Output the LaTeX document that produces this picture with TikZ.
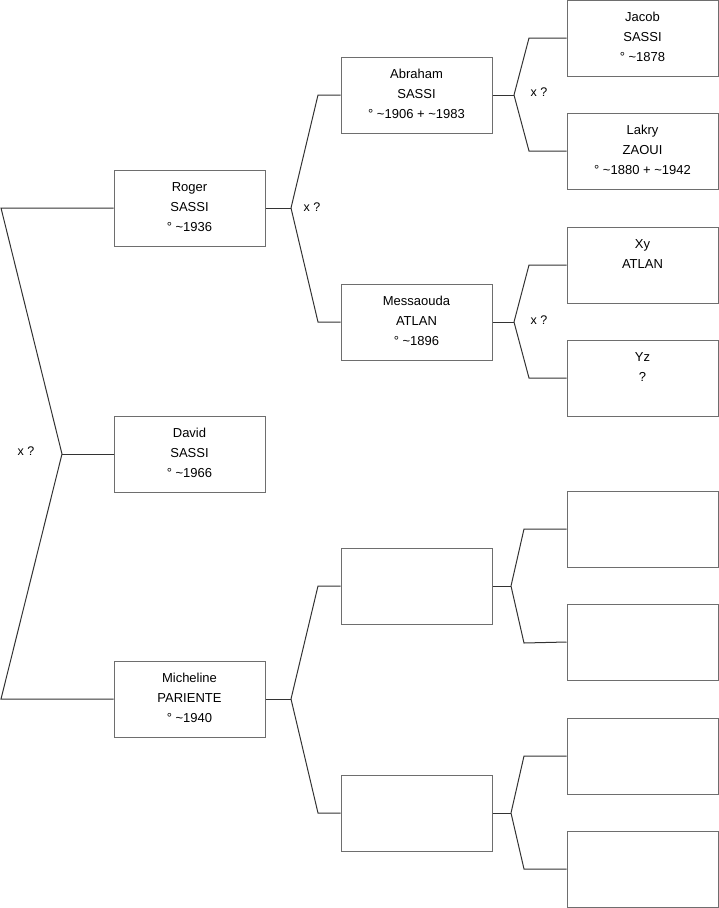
\documentclass[tikz,border=0pt]{standalone}
\usepackage{fontspec}
\setmainfont{Liberation Sans}
\definecolor{boxline}{HTML}{6E6E6E}
\definecolor{conn}{HTML}{333333}
\begin{document}
\begin{tikzpicture}[x=1pt,y=-1pt,
  person/.style={draw=boxline,line width=1pt,fill=white,minimum width=151pt,minimum height=76pt,
    inner sep=0pt,align=center,text depth=2pt,font=\fontsize{13}{20}\selectfont},
  link/.style={draw=conn,line width=1pt},
  mlabel/.style={font=\fontsize{12.5}{14}\selectfont,inner sep=0pt}]
\useasboundingbox (0,0) rectangle (719,908);
% generation 1
\node[person] (roger) at (189.5,208) {Roger\\SASSI\\° \textasciitilde1936};
\node[person] (david) at (189.5,454) {David\\SASSI\\° \textasciitilde1966};
\node[person] (micheline) at (189.5,699) {Micheline\\PARIENTE\\° \textasciitilde1940};
% generation 2
\node[person] (abraham) at (416.5,95) {Abraham\\SASSI\\° \textasciitilde1906 + \textasciitilde1983};
\node[person] (messaouda) at (416.5,322) {Messaouda\\ATLAN\\° \textasciitilde1896};
\node[person] (e1) at (416.5,586) {};
\node[person] (e2) at (416.5,813) {};
% generation 3
\node[person] (jacob) at (642.5,38) {Jacob\\SASSI\\° \textasciitilde1878};
\node[person] (lakry) at (642.5,151) {Lakry\\ZAOUI\\° \textasciitilde1880 + \textasciitilde1942};
\node[person] (xy) at (642.5,265) {Xy\\ATLAN\\\mbox{}};
\node[person] (yz) at (642.5,378) {Yz\\?\\\mbox{}};
\node[person] (e3) at (642.5,529) {};
\node[person] (e4) at (642.5,642) {};
\node[person] (e5) at (642.5,756) {};
\node[person] (e6) at (642.5,869) {};
% left bracket
\coordinate (l1) at (1,208);
\coordinate (l2) at (1,699);
\coordinate (lv) at (62,454);
\draw[link] (roger.west) -- (l1) -- (lv) -- (l2) -- (micheline.west);
\draw[link] (lv) -- (david.west);
\node[mlabel] (xl) at (26,451) {x ?};
% Roger bracket
\coordinate (rv) at (291,208);
\coordinate (ra) at (318,95);
\coordinate (rm) at (318,322);
\draw[link] (roger.east) -- (rv);
\draw[link] (rv) -- (ra) -- (abraham.west);
\draw[link] (rv) -- (rm) -- (messaouda.west);
\node[mlabel] (xr) at (312,207) {x ?};
% Micheline bracket
\coordinate (mv) at (291,699);
\coordinate (ma) at (318,586);
\coordinate (mb) at (318,813);
\draw[link] (micheline.east) -- (mv);
\draw[link] (mv) -- (ma) -- (e1.west);
\draw[link] (mv) -- (mb) -- (e2.west);
% Abraham bracket
\coordinate (av) at (514,95);
\coordinate (aa) at (529,38);
\coordinate (ab) at (529,151);
\draw[link] (abraham.east) -- (av);
\draw[link] (av) -- (aa) -- (jacob.west);
\draw[link] (av) -- (ab) -- (lakry.west);
\node[mlabel] (xa) at (539,92) {x ?};
% Messaouda bracket
\coordinate (sv) at (514,322);
\coordinate (sa) at (529,265);
\coordinate (sb) at (529,378);
\draw[link] (messaouda.east) -- (sv);
\draw[link] (sv) -- (sa) -- (xy.west);
\draw[link] (sv) -- (sb) -- (yz.west);
\node[mlabel] (xs) at (539,320) {x ?};
% e1 bracket
\coordinate (f1v) at (511,586);
\coordinate (f1a) at (524,529);
\coordinate (f1b) at (524,643);
\draw[link] (e1.east) -- (f1v);
\draw[link] (f1v) -- (f1a) -- (e3.west);
\draw[link] (f1v) -- (f1b) -- (e4.west);
% e2 bracket
\coordinate (f2v) at (511,813);
\coordinate (f2a) at (524,756);
\coordinate (f2b) at (524,869);
\draw[link] (e2.east) -- (f2v);
\draw[link] (f2v) -- (f2a) -- (e5.west);
\draw[link] (f2v) -- (f2b) -- (e6.west);
\end{tikzpicture}
\end{document}
